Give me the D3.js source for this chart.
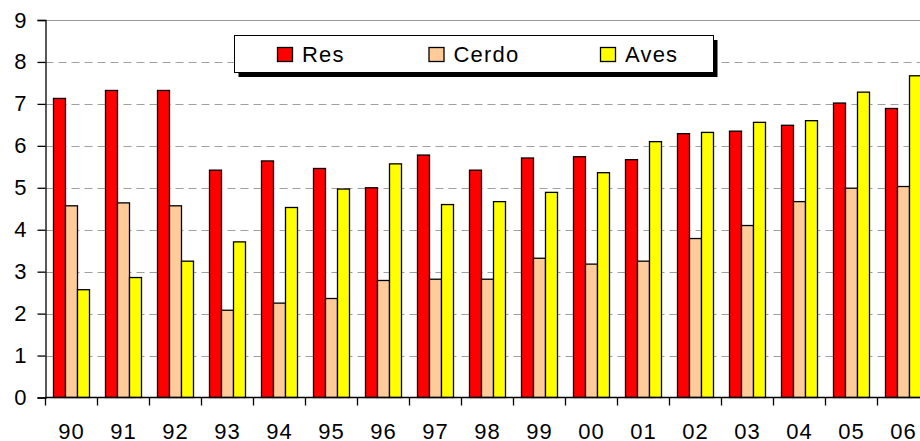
<!DOCTYPE html>
<html>
<head>
<meta charset="utf-8">
<script src="https://cdn.jsdelivr.net/npm/d3@7"></script>
<style>
  html, body { margin: 0; padding: 0; background: #fff; }
  svg { display: block; font-family: "Liberation Sans", Arial, sans-serif; }
</style>
</head>
<body>
<svg id="chart" width="920" height="441"></svg>
<script>
const categories = ["90","91","92","93","94","95","96","97","98","99","00","01","02","03","04","05","06"];
const seriesNames = ["Res", "Cerdo", "Aves"];
const res   = [7.13, 7.32, 7.32, 5.42, 5.64, 5.46, 5.00, 5.78, 5.42, 5.71, 5.74, 5.67, 6.29, 6.35, 6.49, 7.02, 6.89];
const cerdo = [4.57, 4.64, 4.57, 2.08, 2.25, 2.36, 2.79, 2.82, 2.82, 3.32, 3.18, 3.25, 3.79, 4.10, 4.67, 4.99, 5.03];
const aves  = [2.57, 2.86, 3.25, 3.71, 4.53, 4.97, 5.57, 4.60, 4.67, 4.89, 5.36, 6.10, 6.32, 6.56, 6.60, 7.28, 7.67];
const yTicks = [0,1,2,3,4,5,6,7,8,9];
const colors = ["#FF0000", "#FFCC99", "#FFFF00"];

const seriesValues = [res, cerdo, aves];
const svg = d3.select("#chart");

const plotLeft = 45.5, step = 52, plotTop = 20, plotBottom = 397.5;
const x0 = d3.scaleBand().domain(categories).range([plotLeft, plotLeft + step * categories.length]).padding(0);
const x1 = d3.scaleBand().domain(seriesNames).range([8, 44]).padding(0);
const y = d3.scaleLinear().domain([0, 9]).range([plotBottom, plotTop]);

// grid lines
svg.append("g").selectAll("line").data(yTicks.filter(t => t > 0 && t < 9)).join("line")
  .attr("x1", plotLeft).attr("x2", 920)
  .attr("y1", d => Math.round(y(d)) + 0.5).attr("y2", d => Math.round(y(d)) + 0.5)
  .attr("stroke", "#a0a0a0").attr("stroke-width", 1).attr("stroke-dasharray", "8,5");

// top border
svg.append("line").attr("x1", plotLeft).attr("x2", 920).attr("y1", plotTop + 0.5).attr("y2", plotTop + 0.5)
  .attr("stroke", "#999").attr("stroke-width", 1.2);

// bars
const groups = svg.append("g").selectAll("g").data(categories).join("g")
  .attr("transform", d => `translate(${x0(d)},0)`);
groups.selectAll("rect").data((d, i) => seriesNames.map((s, j) => ({ s, j, v: seriesValues[j][i] }))).join("rect")
  .attr("x", d => x1(d.s))
  .attr("width", x1.bandwidth())
  .attr("y", d => y(d.v))
  .attr("height", d => y(0) - y(d.v))
  .attr("fill", d => colors[d.j])
  .attr("stroke", "#000").attr("stroke-width", 1.3);

// y axis
const yAxis = d3.axisLeft(y).tickValues(yTicks).tickSize(8).tickPadding(11).tickFormat(d3.format("d"));
const gy = svg.append("g").attr("transform", `translate(${plotLeft},0)`).call(yAxis);
gy.select(".domain").attr("stroke", "#000").attr("stroke-width", 1.3);
gy.selectAll(".tick line").attr("stroke", "#000").attr("stroke-width", 1.3);
gy.selectAll(".tick text").attr("font-size", 22).attr("fill", "#000").attr("font-family", "Liberation Sans, Arial, sans-serif");

// x axis: ticks at category boundaries
const gx = svg.append("g").attr("transform", `translate(0,${plotBottom})`);
gx.append("line").attr("x1", plotLeft).attr("x2", 920).attr("stroke", "#000").attr("stroke-width", 1.3);
const boundaries = categories.map(c => x0(c));
gx.selectAll("line.tk").data(boundaries).join("line").attr("class", "tk")
  .attr("x1", d => d).attr("x2", d => d).attr("y1", 0).attr("y2", 8)
  .attr("stroke", "#000").attr("stroke-width", 1.3);
gx.selectAll("text").data(categories).join("text")
  .attr("x", d => x0(d) + x0.bandwidth() / 2)
  .attr("y", 41)
  .attr("text-anchor", "middle")
  .attr("font-size", 22)
  .attr("letter-spacing", "1px")
  .attr("fill", "#000")
  .text(d => d);

// legend
const lg = svg.append("g");
lg.append("rect").attr("x", 238.5).attr("y", 40).attr("width", 479).attr("height", 37).attr("fill", "#000");
lg.append("rect").attr("x", 234.5).attr("y", 35.5).attr("width", 479).attr("height", 37)
  .attr("fill", "#fff").attr("stroke", "#000").attr("stroke-width", 1);
const legendX = [277, 428.5, 600];
const items = lg.selectAll("g.item").data(seriesNames).join("g").attr("class", "item")
  .attr("transform", (d, i) => `translate(${legendX[i]},0)`);
items.append("rect").attr("x", 0.5).attr("y", 47.5).attr("width", 15).attr("height", 14)
  .attr("fill", (d, i) => colors[i]).attr("stroke", "#000").attr("stroke-width", 1.3);
items.append("text").attr("x", 25).attr("y", 62).attr("font-size", 22).attr("letter-spacing", "1.2px")
  .attr("fill", "#000").text(d => d);
</script>
</body>
</html>
